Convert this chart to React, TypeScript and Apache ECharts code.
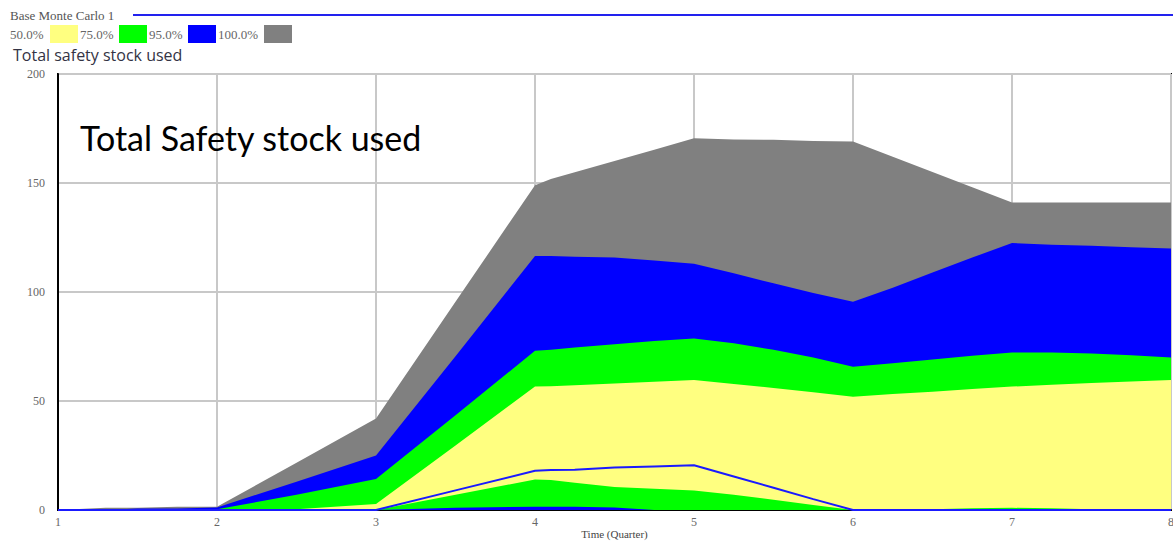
import React, { useEffect, useRef } from "react";
import * as echarts from "echarts";

// Time in quarters
const TIME = [1, 1.3, 1.5, 1.75, 2, 2.5, 3, 3.5, 4, 4.1, 4.25, 4.5, 4.75, 5, 5.25, 5.5, 5.75, 6, 6.25, 6.5, 6.75, 7, 7.25, 7.5, 7.75, 8];

// Confidence bounds (upper / lower edges of the bands)
const UPPER_100 = [0, 1, 1, 1.5, 1.5, 21.7, 42, 95.5, 149, 151.8, 154.9, 160.1, 165.3, 170.5, 170, 169.8, 169.3, 169, 162, 155, 148, 141, 141, 141, 141, 141];
const UPPER_95 = [0, 0, 0.7, 0.7, 1.2, 13, 25, 70.5, 116.5, 116.5, 116.2, 115.8, 114.5, 113, 108.6, 104, 99.5, 95.5, 102, 109, 115.8, 122.5, 121.7, 121.2, 120.5, 120];
const UPPER_75 = [0, 0, 0, 0.2, 0.3, 7, 14.2, 43.5, 73, 73.5, 74.5, 76, 77.5, 78.7, 76.5, 73.5, 70, 65.7, 67.3, 69, 70.7, 72.2, 72.2, 71.8, 71, 70];
const UPPER_50 = [0, 0, 0, 0, 0, 0.4, 2.7, 29.6, 56.6, 56.8, 57.2, 58, 58.8, 59.6, 57.8, 56, 54, 52, 53.2, 54.3, 55.5, 56.6, 57.4, 58.2, 58.9, 59.6];
const LOWER_75 = [0, 0, 0, 0, 0, 0, 0, 7, 14, 13.8, 12.5, 10.5, 9.8, 9, 7, 4.7, 2.3, 0, 0, 0.3, 0.8, 1, 0.8, 0.3, 0, 0];
const LOWER_95 = [0, 0, 0, 0, 0, 0, 0, 1, 1.5, 1.5, 1.5, 1.2, 0, 0, 0, 0, 0, 0, 0, 0, 0, 0, 0, 0, 0, 0];
const BASE_RUN = [0, 0, 0, 0, 0, 0, 0, 9, 18, 18.3, 18.5, 19.5, 20, 20.5, 15.4, 10.2, 5, 0, 0, 0, 0, 0, 0, 0, 0, 0];

const LEGEND_LABELS = ["50.0%", "75.0%", "95.0%", "100.0%"];
const LEGEND_COLORS = ["#ffff80", "#00ff00", "#0000ff", "#808080"];

const Y_TICKS = { min: 0, max: 200, interval: 50 };
const X_TICKS = { min: 1, max: 8, interval: 1 };

const SERIF = "'Liberation Serif', 'DejaVu Serif', serif";

function pairs(vals: number[]) {
  return TIME.map((t, i) => [t, vals[i]]);
}

function band(name: string, vals: number[], color: string, z: number) {
  return {
    name,
    type: "line",
    data: pairs(vals),
    symbol: "none",
    showSymbol: false,
    lineStyle: { width: 0, color },
    itemStyle: { color },
    areaStyle: { color, opacity: 1, origin: "start" },
    z,
    silent: true,
  };
}

export default function App() {
  const ref = useRef<HTMLDivElement>(null);

  useEffect(() => {
    document.body.style.margin = "0";
    document.body.style.overflow = "hidden";
    const chart = echarts.init(ref.current!, null, { renderer: "svg" });

    const legendX = [
      { tx: 10, rx: 50 },
      { tx: 80, rx: 119 },
      { tx: 149, rx: 188 },
      { tx: 218, rx: 264 },
    ];
    const legendGraphics: any[] = [];
    LEGEND_LABELS.forEach((lab, i) => {
      legendGraphics.push({
        type: "text",
        x: legendX[i].tx,
        y: 34,
        style: { text: lab, font: `13px ${SERIF}`, fill: "#666", verticalAlign: "middle" },
      });
      legendGraphics.push({
        type: "rect",
        shape: { x: legendX[i].rx, y: 25, width: 28, height: 18 },
        style: { fill: LEGEND_COLORS[i] },
      });
    });

    chart.setOption({
      animation: false,
      grid: {
        left: 58,
        right: 2,
        top: 74,
        bottom: 31,
        show: true,
        borderColor: "#000",
        borderWidth: 2,
        containLabel: false,
        outerBoundsMode: "none",
      },
      xAxis: {
        type: "value",
        min: X_TICKS.min,
        max: X_TICKS.max,
        interval: X_TICKS.interval,
        name: "Time (Quarter)",
        nameLocation: "middle",
        nameGap: 18,
        nameMoveOverlap: false,
        nameTextStyle: { fontFamily: SERIF, fontSize: 11, color: "#444" },
        axisLine: { show: true, lineStyle: { color: "#000", width: 2 } },
        axisTick: { show: false },
        axisLabel: { fontFamily: SERIF, fontSize: 12, color: "#666", margin: 6 },
        splitLine: { show: true, lineStyle: { color: "#c8c8c8", width: 2 } },
      },
      yAxis: {
        type: "value",
        min: Y_TICKS.min,
        max: Y_TICKS.max,
        interval: Y_TICKS.interval,
        axisLine: { show: true, lineStyle: { color: "#000", width: 2 } },
        axisTick: { show: false },
        axisLabel: { fontFamily: SERIF, fontSize: 12, color: "#666", margin: 13 },
        splitLine: { show: true, lineStyle: { color: "#c8c8c8", width: 2 } },
      },
      series: [
        band("100% upper", UPPER_100, "#808080", 2),
        band("95% upper", UPPER_95, "#0000ff", 3),
        band("75% upper", UPPER_75, "#00ff00", 4),
        band("50% upper", UPPER_50, "#ffff80", 5),
        band("75% lower", LOWER_75, "#00ff00", 6),
        band("95% lower", LOWER_95, "#0000ff", 7),
        {
          name: "Base Monte Carlo 1",
          type: "line",
          data: pairs(BASE_RUN),
          symbol: "none",
          showSymbol: false,
          lineStyle: { width: 2, color: "#1a1aff" },
          itemStyle: { color: "#1a1aff" },
          z: 10,
          silent: true,
        },
      ],
      graphic: [
        {
          type: "text",
          x: 10,
          y: 15,
          style: { text: "Base Monte Carlo 1", font: `13px ${SERIF}`, fill: "#555", verticalAlign: "middle" },
        },
        {
          type: "line",
          shape: { x1: 133, y1: 15, x2: 1173, y2: 15 },
          style: { stroke: "#2222ee", lineWidth: 2 },
        },
        ...legendGraphics,
        {
          type: "text",
          x: 13,
          y: 55,
          style: {
            text: "Total safety stock used",
            font: "16px 'Open Sans', sans-serif",
            fill: "#333344",
            verticalAlign: "middle",
          },
        },
        {
          type: "text",
          x: 80,
          y: 137,
          z: 100,
          style: {
            text: "Total Safety stock used",
            font: "34px Lato, sans-serif",
            fill: "#000",
            verticalAlign: "middle",
          },
        },
      ],
    });

    return () => chart.dispose();
  }, []);

  return <div ref={ref} style={{ width: 1173, height: 541 }} />;
}
